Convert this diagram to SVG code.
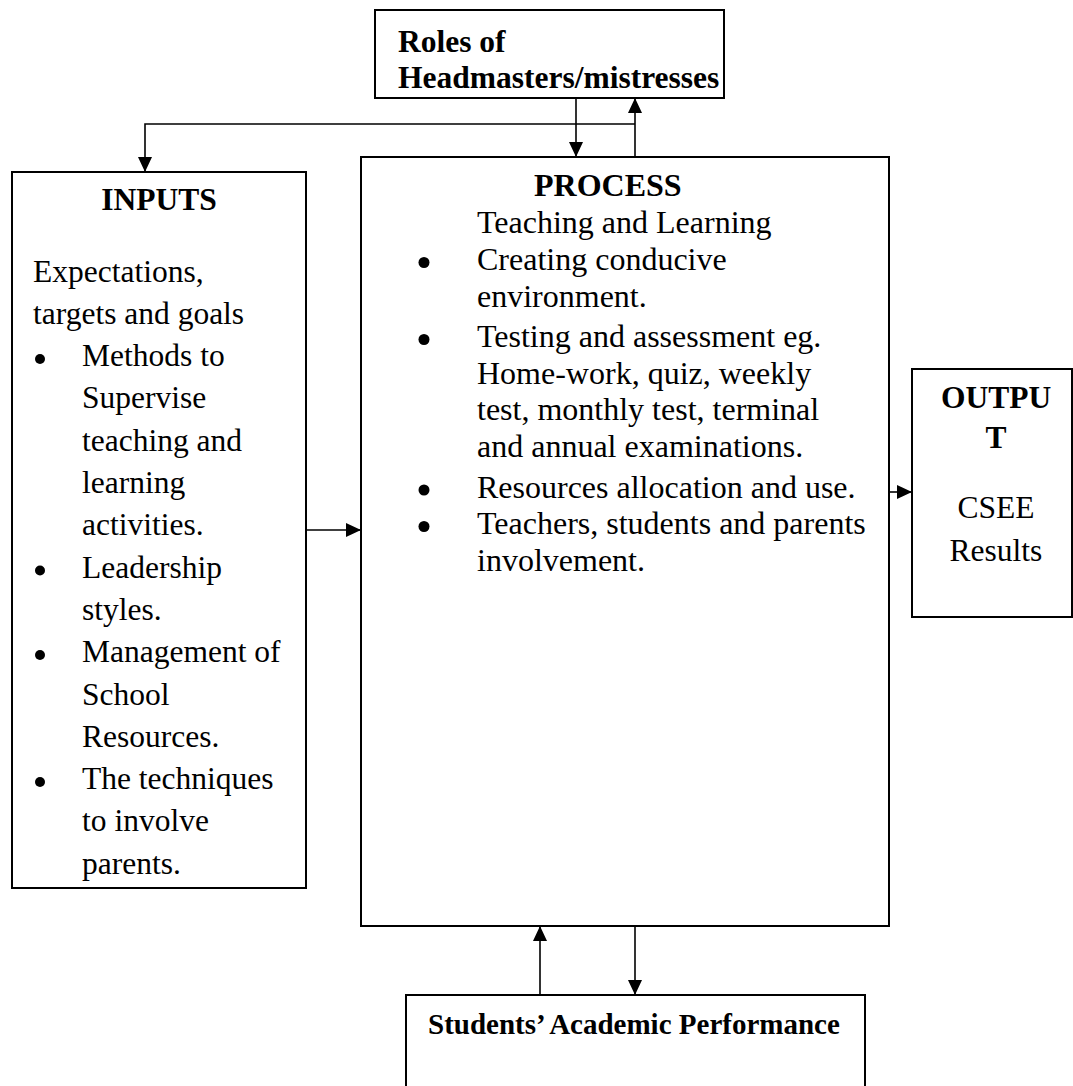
<svg xmlns="http://www.w3.org/2000/svg" width="1073" height="1086" viewBox="0 0 1073 1086">
<defs>
<marker id="ah" markerUnits="userSpaceOnUse" markerWidth="15" markerHeight="14" viewBox="0 0 15 14" refX="15" refY="7" orient="auto">
<path d="M0,0 L15,7 L0,14 z" fill="#000"/>
</marker>
</defs>
<style>
.box{fill:#fff;stroke:#000;stroke-width:2}
.t{font-family:"Liberation Serif","Times New Roman",serif;font-size:31.5px;fill:#000}
.p{font-size:32px}
.b{font-weight:bold}
.c{text-anchor:middle}
.s{font-size:29px}
.bul{fill:#000}
.ln{fill:none;stroke:#000;stroke-width:1.6;marker-end:url(#ah)}
</style>
<rect width="1073" height="1086" fill="#fff"/>
<g id="roles">
<rect class="box" x="375" y="10" width="349" height="88"/>
<text class="t b" x="398" y="52">Roles of</text>
<text class="t b" x="398" y="87.5">Headmasters/mistresses</text>
</g>
<g id="inputs">
<rect class="box" x="12" y="172" width="294" height="716"/>
<text class="t b c" x="159" y="210">INPUTS</text>
<text class="t" x="33" y="281.5">Expectations,</text>
<text class="t" x="33" y="323.8">targets and goals</text>
<circle class="bul" cx="40" cy="359" r="5"/>
<text class="t" x="82" y="366.1">Methods to</text>
<text class="t" x="82" y="408.4">Supervise</text>
<text class="t" x="82" y="450.7">teaching and</text>
<text class="t" x="82" y="493">learning</text>
<text class="t" x="82" y="535.3">activities.</text>
<circle class="bul" cx="40" cy="570.5" r="5"/>
<text class="t" x="82" y="577.6">Leadership</text>
<text class="t" x="82" y="619.9">styles.</text>
<circle class="bul" cx="40" cy="655" r="5"/>
<text class="t" x="82" y="662.2">Management of</text>
<text class="t" x="82" y="704.5">School</text>
<text class="t" x="82" y="746.8">Resources.</text>
<circle class="bul" cx="40" cy="782" r="5"/>
<text class="t" x="82" y="789.1">The techniques</text>
<text class="t" x="82" y="831.4">to involve</text>
<text class="t" x="82" y="873.7">parents.</text>
</g>
<g id="process">
<rect class="box" x="361" y="157" width="528" height="769"/>
<text class="t p b" x="534" y="196">PROCESS</text>
<text class="t p" x="477" y="233">Teaching and Learning</text>
<circle class="bul" cx="424" cy="262.5" r="5.5"/>
<text class="t p" x="477" y="270">Creating conducive</text>
<text class="t p" x="477" y="306.5">environment.</text>
<circle class="bul" cx="424" cy="339.5" r="5.5"/>
<text class="t p" x="477" y="347">Testing and assessment eg.</text>
<text class="t p" x="477" y="383.5">Home-work, quiz, weekly</text>
<text class="t p" x="477" y="420">test, monthly test, terminal</text>
<text class="t p" x="477" y="456.5">and annual examinations.</text>
<circle class="bul" cx="424" cy="490" r="5.5"/>
<text class="t p" x="477" y="497.5">Resources allocation and use.</text>
<circle class="bul" cx="424" cy="526.5" r="5.5"/>
<text class="t p" x="477" y="534">Teachers, students and parents</text>
<text class="t p" x="477" y="570.5">involvement.</text>
</g>
<g id="output">
<rect class="box" x="912" y="369" width="160" height="248"/>
<text class="t b c" x="996" y="408">OUTPU</text>
<text class="t b c" x="996" y="448">T</text>
<text class="t c" x="996" y="518">CSEE</text>
<text class="t c" x="996" y="561">Results</text>
</g>
<g id="students">
<rect class="box" x="406" y="995" width="459" height="120"/>
<text class="t b s" x="428" y="1034">Students’ Academic Performance</text>
</g>
<g id="connectors">
<path class="ln" d="M576,98 V157"/>
<path class="ln" d="M635,157 V98"/>
<path class="ln" d="M635,124 H145 V172"/>
<path class="ln" d="M306,530 H361"/>
<path class="ln" d="M889,492 H912"/>
<path class="ln" d="M540,995 V926"/>
<path class="ln" d="M635,926 V995"/>
</g>
</svg>
